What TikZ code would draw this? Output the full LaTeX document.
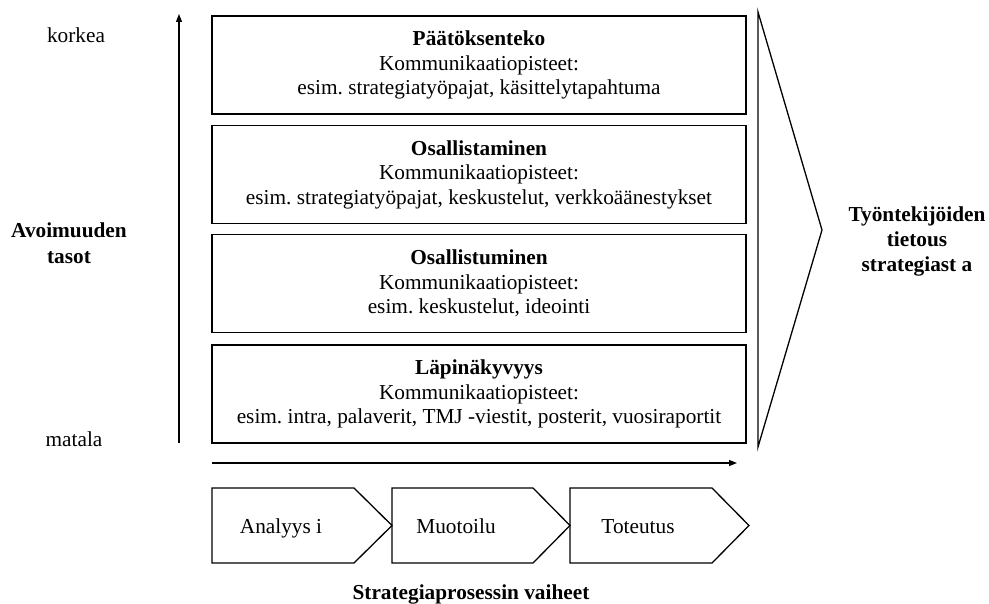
\documentclass[tikz,border=0pt]{standalone}
\usepackage{fontspec}
\setmainfont{Liberation Serif}
\usetikzlibrary{arrows.meta}
\frenchspacing
\tikzset{
  txt/.style={font=\fontsize{21.3}{24.5}\selectfont, inner sep=0pt, align=center},
  levelbox/.style={draw, line width=1.5pt, minimum width=534pt, minimum height=98pt, inner sep=0pt, font=\fontsize{21.3}{24.5}\selectfont, align=center},
  axis/.style={line width=1.3pt, -{Triangle[length=8pt,width=6pt]}},
  outline/.style={line width=1.3pt, line join=miter},
  chev/.style={line width=1.3pt, line join=miter}
}
\begin{document}
\begin{tikzpicture}[x=1pt,y=-1pt]
\useasboundingbox (0,0) rectangle (989,604);
% left labels
\node[txt, anchor=base] (high) at (76,43) {korkea};
\node[txt, anchor=base, font=\fontsize{21.3}{26}\selectfont\bfseries] (lev) at (69,264) {Avoimuuden\\tasot};
\node[txt, anchor=base] (low) at (74,446) {matala};
% vertical axis
\coordinate (vb) at (179,443);
\coordinate (vt) at (179,14);
\draw[axis] (vb) -- (vt);
% level boxes
\node[levelbox] (b1) at (479,65) {\textbf{Päätöksenteko}\\Kommunikaatiopisteet:\\esim. strategiatyöpajat, käsittelytapahtuma};
\node[levelbox] (b2) at (479,174.5) {\textbf{Osallistaminen}\\Kommunikaatiopisteet:\\esim. strategiatyöpajat, keskustelut, verkkoäänestykset};
\node[levelbox] (b3) at (479,283.5) {\textbf{Osallistuminen}\\Kommunikaatiopisteet:\\esim. keskustelut, ideointi};
\node[levelbox] (b4) at (479,394) {\textbf{Läpinäkyvyys}\\Kommunikaatiopisteet:\\esim. intra, palaverit, TMJ -viestit, posterit, vuosiraportit};
% big triangle
\coordinate (tt) at (758,12);
\coordinate (tp) at (822,230);
\coordinate (tb) at (758,447);
\draw[outline] (tt) -- (tp) -- (tb) -- cycle;
\node[txt, anchor=base, font=\fontsize{21.3}{25}\selectfont\bfseries] (know) at (917,272) {Työntekijöiden\\tietous\\strategiast a};
% horizontal axis
\coordinate (hl) at (212,463);
\coordinate (hr) at (737,463);
\draw[axis] (hl) -- (hr);
% chevrons
\draw[chev] (212,488) -- (354,488) -- (392,525.5) -- (354,563) -- (212,563) -- cycle;
\draw[chev] (392,488) -- (533,488) -- (570,525.5) -- (533,563) -- (392,563) -- cycle;
\draw[chev] (570,488) -- (712,488) -- (749,525.5) -- (712,563) -- (570,563) -- cycle;
\node[txt, anchor=base] (c1) at (281,533) {Analyys i};
\node[txt, anchor=base] (c2) at (456,533) {Muotoilu};
\node[txt, anchor=base] (c3) at (638,533) {Toteutus};
\node[txt, anchor=base, font=\fontsize{21.3}{24.5}\selectfont\bfseries] (proc) at (471,599) {Strategiaprosessin vaiheet};
\end{tikzpicture}
\end{document}
